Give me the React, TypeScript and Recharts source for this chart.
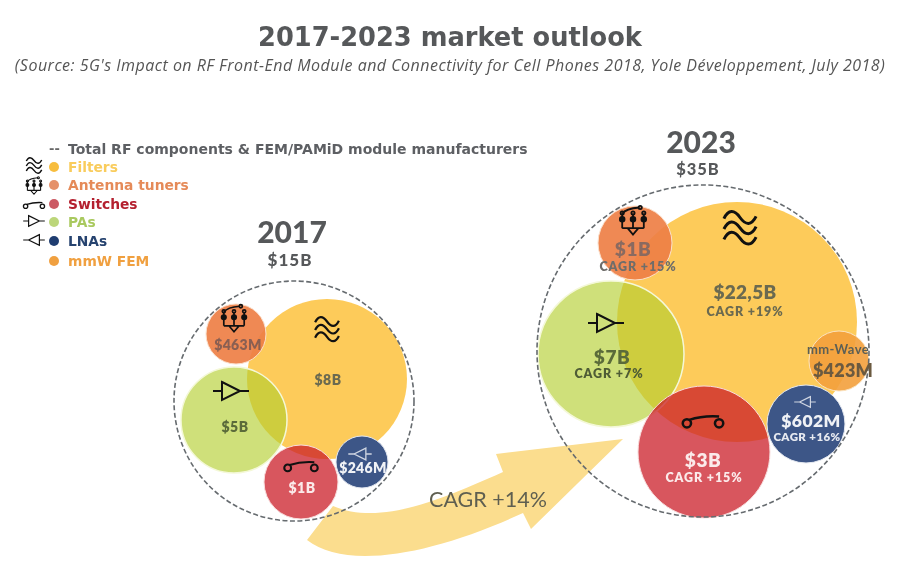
import React from "react"
import { ScatterChart, Scatter, XAxis, YAxis, ZAxis } from "recharts"

const WIDTH = 900
const HEIGHT = 572

const filtersX = [327, 737]
const filtersY = [379, 322]
const filtersArea = [20106, 45239]

const antennaX = [236, 635]
const antennaY = [334, 243]
const antennaArea = [2827, 4301]

const switchesX = [301, 704]
const switchesY = [482, 452]
const switchesArea = [4301, 13685]

const pasX = [234, 611]
const pasY = [420, 354]
const pasArea = [8825, 16742]

const lnasX = [362, 806]
const lnasY = [462, 424]
const lnasArea = [2124, 4778]

const mmwX = [839]
const mmwY = [361]
const mmwArea = [2827]

const totalX = [294, 703]
const totalY = [401, 351]
const totalArea = [45239, 86570]

const legendNames = ["Filters", "Antenna tuners", "Switches", "PAs", "LNAs", "mmW FEM"]

const rows = (xs: number[], ys: number[], areas: number[]) =>
  xs.map((x, i) => ({ x, y: ys[i], z: areas[i] }))

const GREY = "#56585a"
const LABEL_FONT = "Lato, sans-serif"
const LEGEND_FONT = "'DejaVu Sans', sans-serif"

const legendStyle = [
  { dot: "#f7bd3e", text: "#f9cc5c", y: 167 },
  { dot: "#e5916a", text: "#e58a58", y: 185 },
  { dot: "#cc5a64", text: "#b4202f", y: 204 },
  { dot: "#bcd67a", text: "#a9c95f", y: 222 },
  { dot: "#1f3d70", text: "#26436f", y: 241 },
  { dot: "#f0a040", text: "#f0a040", y: 261 },
]

function Filter({ x, y, s = 1 }: { x: number; y: number; s?: number }) {
  const wave = "c4,-8 9,-8 14,-1 s10,7 14,-1"
  return (
    <g transform={`translate(${x} ${y}) scale(${s})`} fill="none" stroke="#111" strokeWidth={2.6}>
      <path d={`M-14,-9 ${wave}`} />
      <path d={`M-14,0 ${wave}`} />
      <path d={`M-14,9 ${wave}`} />
    </g>
  )
}

function Antenna({ x, y, s = 1 }: { x: number; y: number; s?: number }) {
  return (
    <g transform={`translate(${x} ${y}) scale(${s})`} fill="none" stroke="#111" strokeWidth={2}>
      <path d="M-12,-8 V8 M0,-8 V8 M12,-8 V8 M-12,8 H12 M-6,8 L0,15 L6,8 Z" />
      <path d="M-12,-8 Q-8,-14 7,-15" />
      <circle cx={-12} cy={-2} r={2.6} fill="#111" />
      <circle cx={0} cy={-2} r={2.6} fill="#111" />
      <circle cx={12} cy={-2} r={2.6} fill="#111" />
      <circle cx={-12} cy={-9} r={1.8} />
      <circle cx={0} cy={-9} r={1.8} />
      <circle cx={12} cy={-9} r={1.8} />
      <circle cx={8} cy={-15} r={1.8} />
    </g>
  )
}

function Switch({ x, y, s = 1, stroke = "#111" }: { x: number; y: number; s?: number; stroke?: string }) {
  return (
    <g transform={`translate(${x} ${y}) scale(${s})`} fill="none" stroke={stroke} strokeWidth={2.2}>
      <circle cx={-14} cy={2} r={3.6} />
      <circle cx={14} cy={2} r={3.6} />
      <path d="M-18,2 H-18 M-12,-1 Q0,-5 14,-4" />
    </g>
  )
}

function Amp({ x, y, s = 1, left = false, stroke = "#111" }: { x: number; y: number; s?: number; left?: boolean; stroke?: string }) {
  return (
    <g transform={`translate(${x} ${y}) scale(${left ? -s : s} ${s})`} fill="none" stroke={stroke} strokeWidth={2}>
      <path d="M-18,0 H-9 M9,0 H18 M-9,-9 L9,0 L-9,9 Z" />
    </g>
  )
}

function T({
  x,
  y,
  size,
  fill = "#5c5f55",
  weight = 800,
  font = LABEL_FONT,
  spacing = 0,
  children,
}: {
  x: number
  y: number
  size: number
  fill?: string
  weight?: number
  font?: string
  spacing?: number
  children: React.ReactNode
}) {
  return (
    <text x={x} y={y} fontSize={size} fill={fill} fontWeight={weight} fontFamily={font} textAnchor="middle" letterSpacing={spacing}>
      {children}
    </text>
  )
}

export default function App() {
  return (
    <div style={{ position: "absolute", left: 0, top: 0, width: WIDTH, height: HEIGHT, background: "#fff", filter: "blur(0.4px)" }}>
      {/* growth arrow sits behind the bubbles */}
      <svg width={WIDTH} height={HEIGHT} style={{ position: "absolute", left: 0, top: 0 }}>
        <path
          d="M307,540 C345,570 430,556 523,513 L531,529 L623,439 L496,454 L503,472 C440,500 380,526 333,506 Z"
          fill="#fbdd8e"
        />
      </svg>

      <div style={{ position: "absolute", left: 0, top: 0 }}>
        <ScatterChart width={WIDTH} height={HEIGHT} margin={{ top: 0, right: 0, bottom: 0, left: 0 }}>
          <XAxis type="number" dataKey="x" domain={[0, WIDTH]} hide />
          <YAxis type="number" dataKey="y" domain={[0, HEIGHT]} reversed hide />
          <ZAxis type="number" dataKey="z" domain={[0, 100000]} range={[0, 100000]} />
          <Scatter data={rows(filtersX, filtersY, filtersArea)} fill="#fdcb5a" isAnimationActive={false} />
          <Scatter data={rows(mmwX, mmwY, mmwArea)} fill="#f3a03c" fillOpacity={0.9} stroke="#fbe3c0" isAnimationActive={false} />
          <Scatter data={rows(antennaX, antennaY, antennaArea)} fill="#ee7f45" fillOpacity={0.92} stroke="#fbe0cc" isAnimationActive={false} />
          <Scatter data={rows(pasX, pasY, pasArea)} fill="#b4ce2f" fillOpacity={0.64} stroke="#f4f8d8" strokeWidth={1.5} isAnimationActive={false} />
          <Scatter data={rows(lnasX, lnasY, lnasArea)} fill="#3d5687" stroke="#e4e8f0" isAnimationActive={false} />
          <Scatter data={rows(switchesX, switchesY, switchesArea)} fill="#cb1e28" fillOpacity={0.75} stroke="#f8dcdc" isAnimationActive={false} />
          <Scatter
            data={rows(totalX, totalY, totalArea)}
            fill="none"
            stroke="#666b6f"
            strokeWidth={1.6}
            strokeDasharray="5 2.5"
            isAnimationActive={false}
          />
        </ScatterChart>
      </div>

      <svg width={WIDTH} height={HEIGHT} style={{ position: "absolute", left: 0, top: 0 }}>
        <T x={450} y={46} size={25.7} fill={GREY} weight={700} font={LEGEND_FONT}>
          2017-2023 market outlook
        </T>
        <text x={450} y={71} fontSize={16} letterSpacing={0.48} fill="#555" fontStyle="italic" fontFamily="'Open Sans', sans-serif" textAnchor="middle">
          (Source: 5G's Impact on RF Front-End Module and Connectivity for Cell Phones 2018, Yole Développement, July 2018)
        </text>

        {/* legend */}
        <text x={49} y={153} fontSize={13} fontWeight={700} fill="#666" fontFamily={LEGEND_FONT}>--</text>
        <text x={68} y={154} fontSize={14} fontWeight={700} fill="#5d5f63" fontFamily={LEGEND_FONT}>
          Total RF components &amp; FEM/PAMiD module manufacturers
        </text>
        {legendNames.map((name, i) => (
          <g key={name}>
            <circle cx={54} cy={legendStyle[i].y} r={5} fill={legendStyle[i].dot} />
            <text x={68} y={legendStyle[i].y + 4.5} fontSize={13.8} fontWeight={700} fill={legendStyle[i].text} fontFamily={LEGEND_FONT}>
              {name}
            </text>
          </g>
        ))}
        <Filter x={34} y={166} s={0.55} />
        <Antenna x={34} y={186} s={0.55} />
        <Switch x={34} y={205} s={0.6} />
        <Amp x={34} y={221} s={0.6} />
        <Amp x={34} y={240} s={0.6} left />

        {/* year headers */}
        <T x={292} y={243} size={30} fill={GREY} weight={900}>2017</T>
        <T x={290} y={266} size={17} fill={GREY} weight={900} spacing={1}>$15B</T>
        <T x={701} y={153} size={30} fill={GREY} weight={900}>2023</T>
        <T x={698} y={175} size={16.5} fill={GREY} weight={900} spacing={1}>$35B</T>

        {/* 2017 bubbles */}
        <Filter x={327} y={330} s={0.85} />
        <Antenna x={234} y={319} s={0.85} />
        <Switch x={301} y={466} s={0.95} />
        <Amp x={231} y={391} s={1} />
        <Amp x={360} y={454} s={0.65} left stroke="#cfd5e2" />
        <T x={328} y={385} size={14} fill="#6b6a50" spacing={0.5}>$8B</T>
        <T x={238} y={350} size={14} fill="#8a5f52" spacing={0.3}>$463M</T>
        <T x={235} y={432} size={14} fill="#5b6b3a" spacing={0.5}>$5B</T>
        <T x={302} y={493} size={14} fill="#fbeaea" spacing={0.5}>$1B</T>
        <T x={363} y={473} size={14} fill="#f0f2f6" spacing={0.3}>$246M</T>

        {/* 2023 bubbles */}
        <Filter x={740} y={229} s={1.15} />
        <Antenna x={633} y={221} s={0.9} />
        <Switch x={703} y={421} s={1.15} />
        <Amp x={606} y={323} s={1} />
        <Amp x={805} y={402} s={0.6} left stroke="#cfd5e2" />
        <T x={745} y={299} size={19} fill="#6b6a50" spacing={0.3}>$22,5B</T>
        <T x={745} y={316} size={12.5} fill="#6b6a50" spacing={0.9}>CAGR +19%</T>
        <T x={633} y={256} size={19} fill="#8a6a60" spacing={0.5}>$1B</T>
        <T x={638} y={271} size={12.5} fill="#6f6d6a" spacing={0.9}>CAGR +15%</T>
        <T x={612} y={364} size={19} fill="#5b6b3a" spacing={0.5}>$7B</T>
        <T x={609} y={378} size={12.5} fill="#4f5c35" spacing={0.9}>CAGR +7%</T>
        <T x={703} y={467} size={19} fill="#fbeaea" spacing={0.5}>$3B</T>
        <T x={704} y={482} size={12.5} fill="#fbeaea" spacing={0.9}>CAGR +15%</T>
        <T x={811} y={427} size={17.5} fill="#f0f2f6" spacing={0.4}>$602M</T>
        <T x={807} y={441} size={11.5} fill="#e6e9f0" spacing={0.4}>CAGR +16%</T>
        <T x={838} y={354} size={13} fill="#5c5f55" weight={700} spacing={0.4}>mm-Wave</T>
        <T x={843} y={377} size={18} fill="#6b5a40" spacing={0.2}>$423M</T>

        <T x={488} y={507} size={21.5} fill="#5f5f50" weight={400}>CAGR +14%</T>
      </svg>
    </div>
  )
}
